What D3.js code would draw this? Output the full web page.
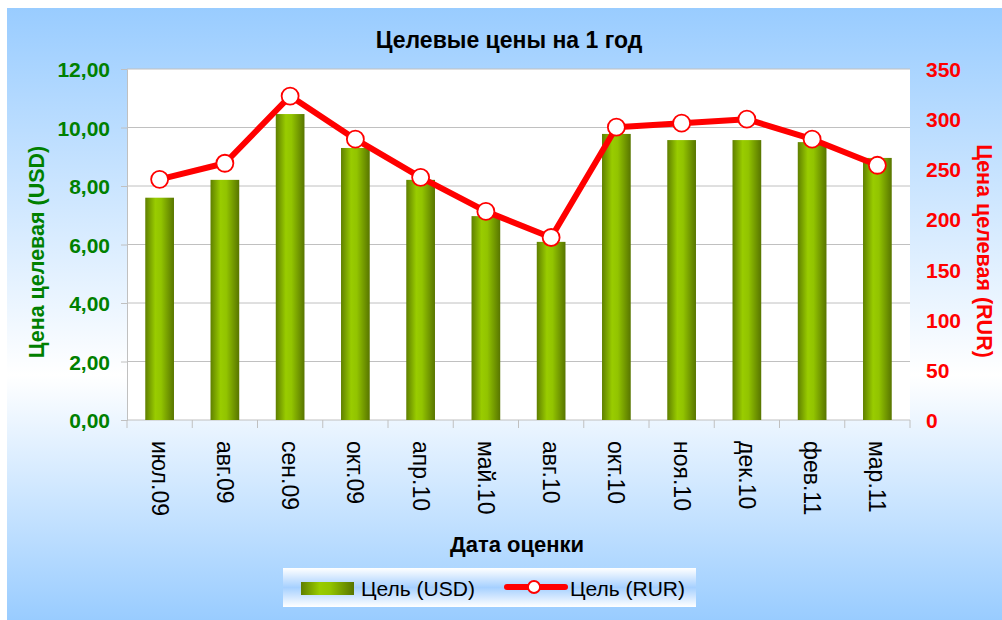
<!DOCTYPE html>
<html>
<head>
<meta charset="utf-8">
<script src="https://cdn.jsdelivr.net/npm/d3@7"></script>
<style>
  body { margin: 0; background: #fff; }
  svg { display: block; font-family: "Liberation Sans", Arial, sans-serif; }
</style>
</head>
<body>
<div id="graph"></div>
<script>
// chart data
let months = ["июл.09", "авг.09", "сен.09", "окт.09", "апр.10", "май.10",
  "авг.10", "окт.10", "ноя.10", "дек.10", "фев.11", "мар.11"];
let targetUSD = [7.6, 8.21, 10.46, 9.3, 8.21, 6.97, 6.09, 9.78, 9.57, 9.57, 9.5, 8.96];
let targetRUR = [240, 256, 323, 280, 242, 208, 182, 292, 296, 300, 280, 254];
let usdTicks = [0, 2, 4, 6, 8, 10, 12];
let rurTicks = [0, 50, 100, 150, 200, 250, 300, 350];

let W = 1002, H = 620;
let margin = { top: 69, right: 92, bottom: 200, left: 127 },
  width = W - margin.left - margin.right,
  height = H - margin.top - margin.bottom;

let svg = d3.select("#graph").append("svg").attr("width", W).attr("height", H);
let defs = svg.append("defs");

// background gradient (blue - white - blue)
let bg = defs.append("linearGradient").attr("id", "bgGrad")
  .attr("x1", 0).attr("y1", 0).attr("x2", 0).attr("y2", 1);
bg.append("stop").attr("offset", "0%").attr("stop-color", "#99ccff");
bg.append("stop").attr("offset", "60%").attr("stop-color", "#ffffff");
bg.append("stop").attr("offset", "100%").attr("stop-color", "#99ccff");

// bar gradient, horizontal
let barGrad = defs.append("linearGradient").attr("id", "barGrad")
  .attr("x1", 0).attr("y1", 0).attr("x2", 1).attr("y2", 0);
barGrad.append("stop").attr("offset", "0%").attr("stop-color", "#5f7f00");
barGrad.append("stop").attr("offset", "35%").attr("stop-color", "#99cc00");
barGrad.append("stop").attr("offset", "55%").attr("stop-color", "#92c400");
barGrad.append("stop").attr("offset", "100%").attr("stop-color", "#587500");

// legend gradient
let legGrad = defs.append("linearGradient").attr("id", "legGrad")
  .attr("x1", 0).attr("y1", 0).attr("x2", 0).attr("y2", 1);
legGrad.append("stop").attr("offset", "0%").attr("stop-color", "#ffffff");
legGrad.append("stop").attr("offset", "50%").attr("stop-color", "#a6d0ff");
legGrad.append("stop").attr("offset", "100%").attr("stop-color", "#ffffff");

svg.append("rect").attr("x", 7).attr("y", 8).attr("width", W - 7).attr("height", H - 8)
  .attr("fill", "url(#bgGrad)");

let g = svg.append("g").attr("transform", `translate(${margin.left},${margin.top})`);

// plot area
g.append("rect").attr("width", width).attr("height", height).attr("fill", "#fff");

// scales
let x = d3.scaleBand().domain(months).range([0, width]).paddingInner(0.56).paddingOuter(0.28);
let xc = d3.scaleBand().domain(months).range([0, width]);
let yL = d3.scaleLinear().domain([0, 12]).range([height, 0]);
let yR = d3.scaleLinear().domain([0, 350]).range([height, 0]);

// gridlines
g.selectAll(".grid").data(usdTicks.slice(1)).join("line")
  .attr("x1", 0).attr("x2", width)
  .attr("y1", d => yL(d)).attr("y2", d => yL(d))
  .attr("stroke", "#c0c0c0").attr("stroke-width", 1);

// left axis
let leftAxis = g.append("g")
  .call(d3.axisLeft(yL).tickValues(usdTicks).tickSize(6).tickPadding(11)
    .tickFormat(d => d3.format(".2f")(d).replace(".", ",")));
leftAxis.select(".domain").attr("stroke", "#c0c0c0");
leftAxis.selectAll(".tick line").attr("stroke", "#c0c0c0");
leftAxis.selectAll("text").attr("fill", "#008000").style("font-size", "21px")
  .style("font-weight", "bold").attr("dy", "0.36em");

// right axis (labels only)
let rightAxis = g.append("g").attr("transform", `translate(${width},0)`)
  .call(d3.axisRight(yR).tickValues(rurTicks).tickSize(0).tickPadding(16));
rightAxis.select(".domain").remove();
rightAxis.selectAll("text").attr("fill", "#ff0000").style("font-size", "21px")
  .style("font-weight", "bold").attr("dy", "0.36em");

// bottom axis: ticks on category boundaries
let bottom = g.append("g").attr("transform", `translate(0,${height})`);
bottom.append("line").attr("x1", 0).attr("x2", width).attr("stroke", "#c0c0c0");
bottom.selectAll(".bt").data(months.concat(["end"])).join("line")
  .attr("x1", (d, i) => i < months.length ? xc(d) : width)
  .attr("x2", (d, i) => i < months.length ? xc(d) : width)
  .attr("y1", 0).attr("y2", 8).attr("stroke", "#c0c0c0");
bottom.selectAll(".xl").data(months).join("text")
  .attr("transform", d => `translate(${xc(d) + xc.bandwidth() / 2},21) rotate(90)`)
  .attr("dy", "0.35em").attr("text-anchor", "start")
  .style("font-size", "23px").attr("fill", "#000").text(d => d);

// bars
g.selectAll(".bar").data(targetUSD).join("rect")
  .attr("x", (d, i) => x(months[i]))
  .attr("y", d => yL(d))
  .attr("width", x.bandwidth())
  .attr("height", d => height - yL(d))
  .attr("fill", "url(#barGrad)");

// RUR line
let line = d3.line().x((d, i) => xc(months[i]) + xc.bandwidth() / 2).y(d => yR(d));
g.append("path").datum(targetRUR).attr("d", line)
  .attr("fill", "none").attr("stroke", "#ff0000").attr("stroke-width", 6)
  .attr("stroke-linejoin", "round");
g.selectAll(".pt").data(targetRUR).join("circle")
  .attr("cx", (d, i) => xc(months[i]) + xc.bandwidth() / 2)
  .attr("cy", d => yR(d))
  .attr("r", 8.5).attr("fill", "#fff").attr("stroke", "#ff0000").attr("stroke-width", 1.8);

// titles
svg.append("text").attr("x", 509).attr("y", 48).attr("text-anchor", "middle")
  .style("font-size", "23px").style("font-weight", "bold").text("Целевые цены на 1 год");
svg.append("text").attr("transform", "translate(44,252) rotate(-90)")
  .attr("text-anchor", "middle").attr("fill", "#008000")
  .style("font-size", "21.5px").style("font-weight", "bold").text("Цена целевая (USD)");
svg.append("text").attr("transform", "translate(977,251) rotate(90)")
  .attr("text-anchor", "middle").attr("fill", "#ff0000")
  .style("font-size", "21.5px").style("font-weight", "bold").text("Цена целевая (RUR)");
svg.append("text").attr("x", 517).attr("y", 552).attr("text-anchor", "middle")
  .style("font-size", "22px").style("font-weight", "bold").text("Дата оценки");

// legend
let leg = svg.append("g").attr("transform", "translate(283,568)");
leg.append("rect").attr("width", 413).attr("height", 39).attr("fill", "url(#legGrad)");
leg.append("rect").attr("x", 18).attr("y", 14).attr("width", 53).attr("height", 13)
  .attr("fill", "url(#barGrad)");
leg.append("text").attr("x", 78).attr("y", 28).style("font-size", "21px").text("Цель (USD)");
leg.append("line").attr("x1", 224).attr("x2", 282).attr("y1", 19).attr("y2", 19)
  .attr("stroke", "#ff0000").attr("stroke-width", 6).attr("stroke-linecap", "round");
leg.append("circle").attr("cx", 251).attr("cy", 19).attr("r", 6)
  .attr("fill", "#fff").attr("stroke", "#ff0000").attr("stroke-width", 1.8);
leg.append("text").attr("x", 287).attr("y", 28).style("font-size", "21px").text("Цель (RUR)");
</script>
</body>
</html>
